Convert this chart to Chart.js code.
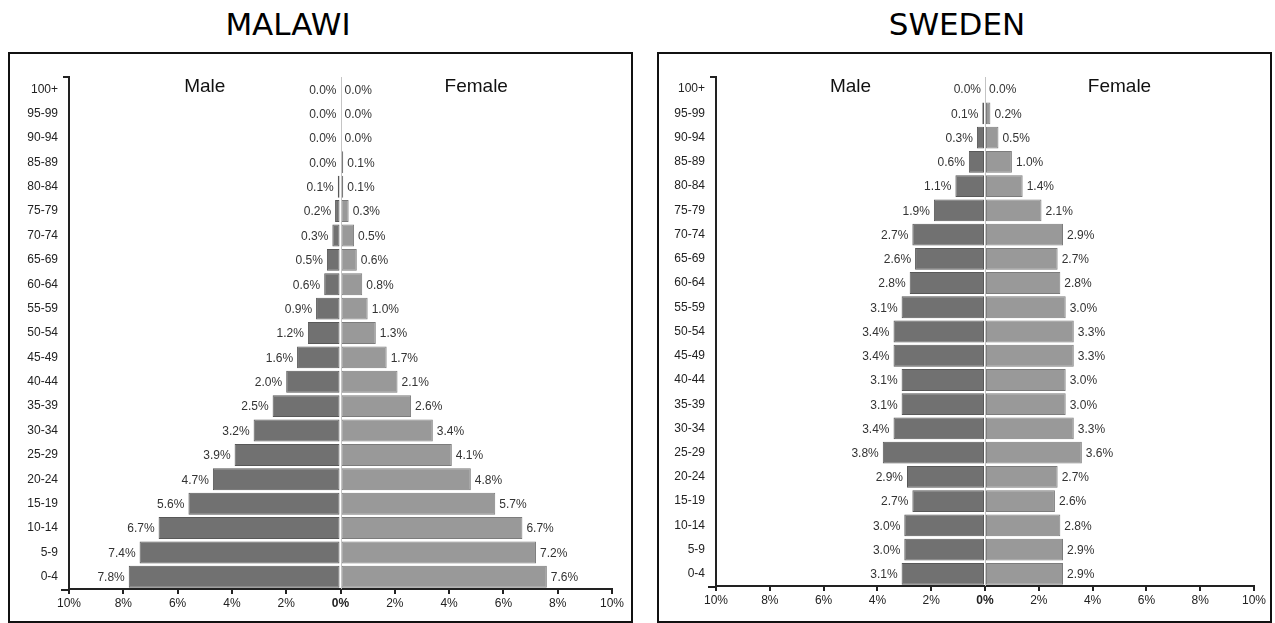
<!DOCTYPE html>
<html>
<head>
<meta charset="utf-8">
<script src="https://cdn.jsdelivr.net/npm/chart.js@4.4.1/dist/chart.umd.min.js"></script>
<style>
  body { margin: 0; background: #fff; width: 1275px; height: 623px; overflow: hidden; position: relative; }
  .title { position: absolute; top: 6px; font-family: "DejaVu Sans", Verdana, sans-serif; font-size: 31px; color: #000; text-align: center; }
  .box { position: absolute; top: 52px; height: 571px; border: 2px solid #111; box-sizing: border-box; }
  .box canvas { position: absolute; left: 0; top: 0; }
</style>
</head>
<body>
<div class="title" style="left:8px;width:560px;">MALAWI</div>
<div class="title" style="left:657px;width:600px;">SWEDEN</div>
<div class="box" style="left:8px;width:625px;"><canvas id="malawiChart" width="621" height="567"></canvas></div>
<div class="box" style="left:657px;width:615px;"><canvas id="swedenChart" width="611" height="567"></canvas></div>
<script>
// ---------- DATA ----------
var ageGroups = ['0-4', '5-9', '10-14', '15-19', '20-24', '25-29', '30-34', '35-39', '40-44', '45-49',
    '50-54', '55-59', '60-64', '65-69', '70-74', '75-79', '80-84', '85-89', '90-94', '95-99', '100+'];

var malawiMale = [7.8, 7.4, 6.7, 5.6, 4.7, 3.9, 3.2, 2.5, 2.0, 1.6, 1.2, 0.9, 0.6, 0.5, 0.3, 0.2, 0.1, 0.0, 0.0, 0.0, 0.0];
var malawiFemale = [7.6, 7.2, 6.7, 5.7, 4.8, 4.1, 3.4, 2.6, 2.1, 1.7, 1.3, 1.0, 0.8, 0.6, 0.5, 0.3, 0.1, 0.1, 0.0, 0.0, 0.0];

var swedenMale = [3.1, 3.0, 3.0, 2.7, 2.9, 3.8, 3.4, 3.1, 3.1, 3.4, 3.4, 3.1, 2.8, 2.6, 2.7, 1.9, 1.1, 0.6, 0.3, 0.1, 0.0];
var swedenFemale = [2.9, 2.9, 2.8, 2.6, 2.7, 3.6, 3.3, 3.0, 3.0, 3.3, 3.3, 3.0, 2.8, 2.7, 2.9, 2.1, 1.4, 1.0, 0.5, 0.2, 0.0];

var xTicks = [-10, -8, -6, -4, -2, 0, 2, 4, 6, 8, 10];

// ---------- PLUGIN: labels, center line, axis corners ----------
var pyramidPlugin = {
    id: 'pyramid',
    afterDatasetsDraw: function (chart) {
        var ctx = chart.ctx;
        var xs = chart.scales.x;
        var ys = chart.scales.y;
        var area = chart.chartArea;
        var zero = xs.getPixelForValue(0);

        // light center line
        ctx.save();
        ctx.strokeStyle = '#c4c4c4';
        ctx.lineWidth = 1;
        ctx.beginPath();
        ctx.moveTo(Math.round(zero) + 0.5, area.top);
        ctx.lineTo(Math.round(zero) + 0.5, area.bottom);
        ctx.stroke();

        // value labels
        ctx.font = '12px "Liberation Sans", Arial, sans-serif';
        ctx.fillStyle = '#333';
        ctx.textBaseline = 'middle';
        chart.data.datasets.forEach(function (ds, i) {
            var meta = chart.getDatasetMeta(i);
            meta.data.forEach(function (bar, j) {
                var v = Math.abs(ds.data[j]).toFixed(1) + '%';
                if (i === 0) {
                    ctx.textAlign = 'right';
                    ctx.fillText(v, bar.x - 4, bar.y + 1);
                } else {
                    ctx.textAlign = 'left';
                    ctx.fillText(v, bar.x + 4, bar.y + 1);
                }
            });
        });

        // Male / Female headers
        var topY = ys.getPixelForValue(ageGroups.length - 1) - 2;
        ctx.font = '19px "Liberation Sans", Arial, sans-serif';
        ctx.fillStyle = '#111';
        ctx.textAlign = 'center';
        ctx.fillText('Male', xs.getPixelForValue(-5), topY);
        ctx.fillText('Female', xs.getPixelForValue(5), topY);

        // axis corner bits
        ctx.strokeStyle = '#222';
        ctx.lineWidth = 2;
        ctx.beginPath();
        ctx.moveTo(area.left - 6, area.top);
        ctx.lineTo(area.left, area.top);
        ctx.moveTo(area.left - 8, area.bottom + 1);
        ctx.lineTo(area.left, area.bottom + 1);
        ctx.stroke();
        ctx.restore();
    }
};

function makePyramid(canvasId, male, female, layout) {
    var ctx = document.getElementById(canvasId).getContext('2d');
    return new Chart(ctx, {
        type: 'bar',
        data: {
            labels: ageGroups,
            datasets: [{
                label: 'Male',
                data: male.map(function (v) { return -v; }),
                backgroundColor: '#717171',
                borderColor: '#585858',
                borderWidth: 1,
                borderSkipped: false
            }, {
                label: 'Female',
                data: female,
                backgroundColor: '#999999',
                borderColor: '#7c7c7c',
                borderWidth: 1,
                borderSkipped: false
            }]
        },
        options: {
            indexAxis: 'y',
            responsive: false,
            animation: false,
            layout: { padding: { top: layout.top, right: layout.right, left: 0, bottom: 0 } },
            datasets: { bar: { barPercentage: 0.9, categoryPercentage: 1 } },
            plugins: { legend: { display: false }, tooltip: { enabled: false } },
            scales: {
                x: {
                    stacked: true,
                    min: -10,
                    max: 10,
                    afterBuildTicks: function (scale) {
                        scale.ticks = xTicks.map(function (v) { return { value: v }; });
                    },
                    afterFit: function (scale) { scale.height = layout.xHeight; },
                    ticks: {
                        color: '#222',
                        maxRotation: 0,
                        autoSkip: false,
                        padding: 2,
                        font: function (c) {
                            return {
                                family: '"Liberation Sans", Arial, sans-serif',
                                size: 12,
                                weight: (c.tick && c.tick.value === 0) ? 'bold' : 'normal'
                            };
                        },
                        callback: function (v) { return Math.abs(v) + '%'; }
                    },
                    grid: { drawOnChartArea: false, drawTicks: true, tickLength: 5, color: '#222', lineWidth: 2 },
                    border: { display: true, color: '#222', width: 2 }
                },
                y: {
                    stacked: true,
                    reverse: true,
                    afterFit: function (scale) { scale.width = layout.yWidth; },
                    ticks: {
                        color: '#222',
                        padding: 3,
                        autoSkip: false,
                        font: { family: '"Liberation Sans", Arial, sans-serif', size: 12 }
                    },
                    grid: { display: false },
                    border: { display: true, color: '#222', width: 2 }
                }
            }
        },
        plugins: [pyramidPlugin]
    });
}

makePyramid('malawiChart', malawiMale, malawiFemale, { top: 23, right: 19, yWidth: 59, xHeight: 32 });
makePyramid('swedenChart', swedenMale, swedenFemale, { top: 23, right: 16, yWidth: 57, xHeight: 35 });
</script>
</body>
</html>
